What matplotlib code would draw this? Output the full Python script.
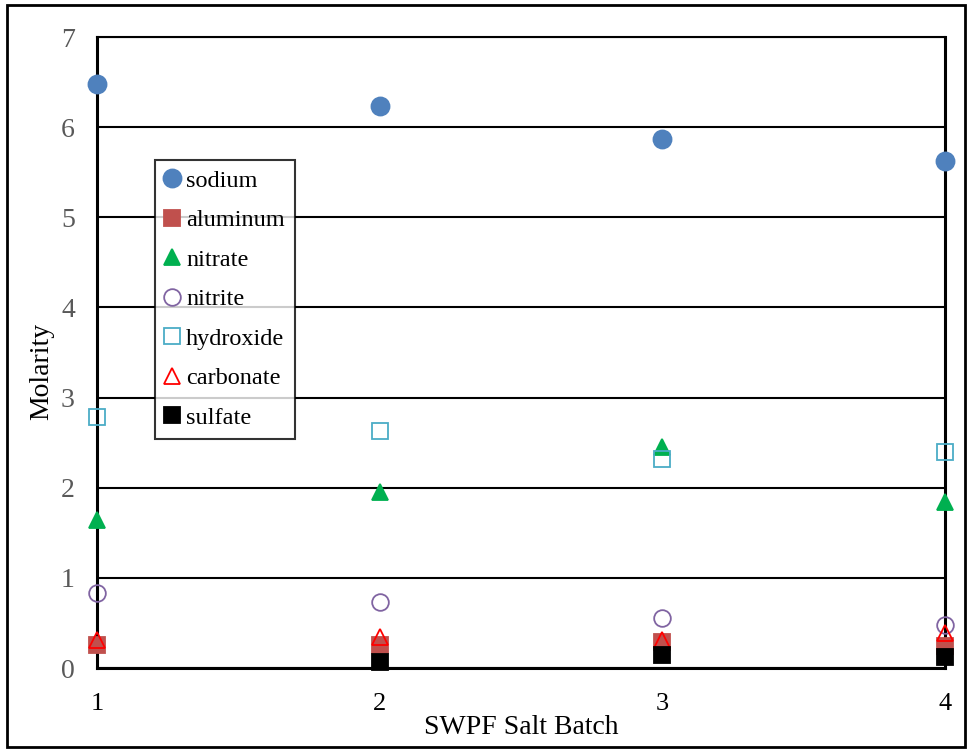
import numpy as np
import matplotlib
matplotlib.use("Agg")
import matplotlib.pyplot as plt
from matplotlib.patches import Rectangle

plt.rcParams['font.family'] = ['Liberation Serif', 'DejaVu Serif']

batch = [1, 2, 3, 4]
sodium = [6.48, 6.23, 5.87, 5.62]
aluminum = [0.26, 0.26, 0.29, 0.24]
nitrate = [1.64, 1.95, 2.45, 1.84]
nitrite = [0.83, 0.73, 0.55, 0.48]
hydroxide = [2.79, 2.63, 2.32, 2.40]
carbonate = [0.31, 0.34, 0.31, 0.39]
sulfate = [np.nan, 0.07, 0.14, 0.12]

fig = plt.figure(figsize=(9.67, 7.51), dpi=100)
ax = fig.add_axes([0.1003, 0.1105, 0.8767, 0.8402])

# series: (label, data, marker, face, edge, size)
series = [
    ("sodium", sodium, "o", "#4F81BD", "#4F81BD", 13),
    ("aluminum", aluminum, "s", "#C0504D", "#C0504D", 11),
    ("nitrate", nitrate, "^", "#00B050", "#00B050", 12),
    ("nitrite", nitrite, "o", "none", "#8064A2", 12),
    ("hydroxide", hydroxide, "s", "none", "#4BACC6", 11),
    ("carbonate", carbonate, "^", "none", "#FF0000", 12),
    ("sulfate", sulfate, "s", "black", "black", 11),
]
for name, vals, mk, fc, ec, ms in series:
    ax.plot(batch, vals, ls="none", marker=mk, ms=ms, mfc=fc, mec=ec,
            mew=1.3, label=name, clip_on=False, zorder=5)

ax.set_xlim(1, 4)
ax.set_ylim(0, 7)
ax.set_xticks(batch)
ax.set_yticks(range(8))
ax.grid(axis="y", color="black", lw=1.5)
ax.set_axisbelow(True)
ax.spines["top"].set_linewidth(1.5)
for s in ["left", "bottom", "right"]:
    ax.spines[s].set_linewidth(2.2)
ax.tick_params(length=0)
ax.tick_params(axis="y", labelsize=20, labelcolor="#595959", pad=16)
ax.tick_params(axis="x", labelsize=19, labelcolor="black", pad=18)
ax.set_xlabel("SWPF Salt Batch", fontsize=20, labelpad=0)
ax.set_ylabel("Molarity", fontsize=20)
ax.yaxis.set_label_coords(-0.05, 0.47)

leg = ax.legend(loc="upper left", bbox_to_anchor=(0.068, 0.805), fontsize=17.5,
                frameon=True, fancybox=False, edgecolor="black",
                handlelength=0.6, handletextpad=0.3, borderpad=0.4,
                borderaxespad=0, labelspacing=0.72, markerscale=1.0)
leg.get_frame().set_linewidth(1.5)
leg.set_zorder(10)

fig.patches.append(Rectangle((0.007, 0.005), 0.991, 0.988, transform=fig.transFigure,
                             fill=False, edgecolor="black", lw=2))

fig.savefig("out.png", dpi=100)
